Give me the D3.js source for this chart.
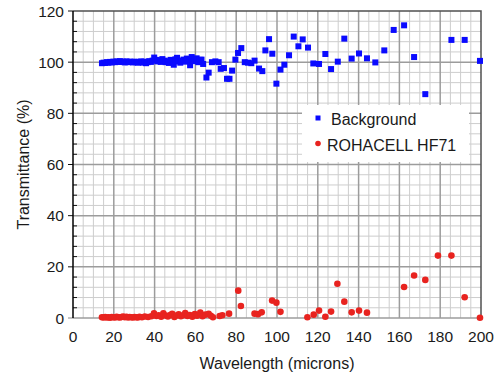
<!DOCTYPE html>
<html>
<head>
<meta charset="utf-8">
<script src="https://cdn.jsdelivr.net/npm/d3@7"></script>
<style>
  html, body { margin: 0; padding: 0; background: #fff; }
  svg { display: block; font-family: "Liberation Sans", Arial, sans-serif; }
</style>
</head>
<body>
<svg id="chart" width="500" height="376"></svg>
<script>
// Background (empty beam) transmittance, wavelength in microns
const backgroundWavelength = [
  14.2, 15.0, 15.8, 16.6, 17.4, 18.2, 19.0, 19.8, 20.6, 21.4, 22.2, 23.0, 23.8, 24.6,
  25.4, 26.2, 27.0, 27.8, 28.6, 29.4, 30.2, 31.0, 31.8, 32.6, 33.4, 34.2, 35.0, 35.8,
  36.6, 37.4, 38.2, 39.0, 39.8, 40.6, 41.4, 42.2, 43.0, 43.8, 44.6, 45.4, 46.2, 47.0,
  47.8, 48.6, 49.4, 50.2, 51.0, 51.8, 52.6, 53.4, 54.2, 55.0, 55.8, 56.6, 57.4, 58.2,
  59.0, 59.8, 60.6, 61.4, 62.2, 63.0, 63.8,
  65.4, 66.5, 68.1, 69.8, 71.4, 72.4, 74.0, 75.5, 76.7, 78.0, 79.6, 80.9, 82.5, 84.2,
  85.8, 87.4, 89.0, 91.2, 92.8, 94.3, 96.1, 97.7, 99.7, 101.7, 103.6, 105.9, 108.2,
  110.5, 112.6, 115.2, 117.8, 120.6, 123.7, 126.5, 129.8, 133.0, 136.6, 140.2, 144.1,
  148.2, 152.6, 157.2, 162.3, 167.2, 172.7, 185.5, 192.0, 199.5
];
const backgroundValue = [
  99.6, 99.8, 99.7, 100.0, 99.8, 100.1, 99.9, 100.2, 100.0, 100.3, 100.1, 100.4, 100.1, 100.2,
  99.9, 100.3, 100.0, 100.2, 100.1, 99.9, 100.2, 100.0, 99.8, 100.1, 100.3, 99.8, 100.2, 99.6,
  100.0, 100.4, 100.1, 100.6, 101.8, 100.9, 100.3, 100.8, 100.1, 101.2, 100.6, 100.0, 100.4, 99.7,
  100.9, 100.2, 99.0, 101.1, 101.7, 100.3, 99.8, 100.6, 101.0, 100.2, 101.4, 100.7, 98.8, 102.0,
  100.4, 101.1, 101.5, 100.0, 100.9, 101.0, 99.3,
  94.0, 95.9, 100.0, 100.3, 100.0, 97.4, 97.7, 93.5, 93.5, 96.7, 101.0, 103.6, 105.5, 100.0,
  99.8, 99.6, 100.6, 97.5, 96.5, 104.6, 109.0, 103.3, 91.6, 97.1, 99.0, 102.7, 110.0,
  106.2, 108.9, 105.7, 99.5, 99.3, 103.2, 97.3, 100.2, 109.2, 101.4, 103.4, 101.5,
  99.9, 104.6, 112.6, 114.4, 102.0, 87.5, 108.7, 108.7, 100.5
];

// ROHACELL HF71 sample transmittance
const sampleWavelength = [
  14.2, 15.0, 15.8, 16.6, 17.4, 18.2, 19.0, 19.8, 20.6, 21.4, 22.2, 23.0, 23.8, 24.6,
  25.4, 26.2, 27.0, 27.8, 28.6, 29.4, 30.2, 31.0, 31.8, 32.6, 33.8, 35.2, 36.8, 38.4,
  39.7, 40.9, 42.0, 43.2, 44.3, 45.4, 46.5, 47.6, 48.6, 49.7, 50.8, 51.8, 52.9, 54.0,
  55.0, 56.1, 57.3, 58.5, 59.7, 60.8, 62.4, 63.5, 64.9, 66.5, 67.6, 68.6, 71.9, 73.2,
  76.5, 81.0, 82.3, 89.0, 90.7, 92.5, 97.6, 99.7, 101.7, 114.9, 118.0, 120.6, 123.7,
  126.5, 129.6, 133.0, 136.6, 140.2, 144.1, 162.3, 167.2, 172.7, 178.9, 185.5, 192.0, 199.5
];
const sampleValue = [
  0.3, 0.2, 0.4, 0.2, 0.3, 0.1, 0.4, 0.3, 0.2, 0.5, 0.3, 0.2, 0.4, 0.6,
  0.3, 0.5, 0.2, 0.4, 0.3, 0.2, 0.4, 0.3, 0.2, 0.5, 0.3, 0.6, 0.4, 0.7,
  1.8, 0.8, 1.1, 0.5, 1.8, 1.0, 0.6, 1.2, 1.6, 0.4, 1.0, 1.4, 0.7, 1.1,
  1.9, 0.8, 1.2, 0.5, 1.5, 0.9, 2.1, 0.7, 1.3, 1.6, 0.9, 0.3, 0.8, 1.1,
  1.7, 10.7, 4.7, 1.7, 1.5, 2.2, 6.8, 6.0, 2.4, 0.3, 1.3, 2.9, 0.5,
  2.5, 13.4, 6.4, 2.2, 2.9, 2.1, 12.1, 16.6, 14.9, 24.4, 24.4, 8.1, 0.1
];

const xTicks = [0, 20, 40, 60, 80, 100, 120, 140, 160, 180, 200];
const yTicks = [0, 20, 40, 60, 80, 100, 120];
const seriesNames = ["Background", "ROHACELL HF71"];
const seriesColors = ["#0a0aff", "#e8231f"];

const background = backgroundWavelength.map((w, i) => ({ x: w, y: backgroundValue[i] }));
const sample = sampleWavelength.map((w, i) => ({ x: w, y: sampleValue[i] }));

const svg = d3.select("#chart");
const plotLeft = 73, plotRight = 481, plotTop = 11, plotBottom = 318;

const x = d3.scaleLinear().domain([0, 200]).range([plotLeft, plotRight]);
const y = d3.scaleLinear().domain([0, 120]).range([plotBottom, plotTop]);

// minor grid: every 5 microns, every 4 percent
const grid = svg.append("g");
grid.selectAll("line.vminor")
  .data(d3.range(0, 201, 5).filter(v => v % 20 !== 0))
  .join("line")
  .attr("x1", d => x(d)).attr("x2", d => x(d))
  .attr("y1", plotTop).attr("y2", plotBottom)
  .attr("stroke", "#cdcdcd").attr("stroke-width", 1);
grid.selectAll("line.hminor")
  .data(d3.range(0, 121, 4).filter(v => v % 20 !== 0))
  .join("line")
  .attr("x1", plotLeft).attr("x2", plotRight)
  .attr("y1", d => y(d)).attr("y2", d => y(d))
  .attr("stroke", "#cdcdcd").attr("stroke-width", 1);
// major grid
grid.selectAll("line.vmajor")
  .data(xTicks.filter(v => v > 0 && v < 200))
  .join("line")
  .attr("x1", d => x(d)).attr("x2", d => x(d))
  .attr("y1", plotTop).attr("y2", plotBottom)
  .attr("stroke", "#9c9c9c").attr("stroke-width", 1.5);
grid.selectAll("line.hmajor")
  .data(yTicks.filter(v => v < 120))
  .join("line")
  .attr("x1", plotLeft).attr("x2", plotRight)
  .attr("y1", d => y(d)).attr("y2", d => y(d))
  .attr("stroke", "#9c9c9c").attr("stroke-width", 1.5);

// frame: top and right edges
svg.append("path")
  .attr("d", `M${plotLeft},${plotTop}H${plotRight}V${plotBottom}`)
  .attr("fill", "none").attr("stroke", "#505050").attr("stroke-width", 1.5);

// left axis with inward minor ticks and outward major ticks
const yAxis = svg.append("g");
yAxis.selectAll("line.minor")
  .data(d3.range(4, 120, 4).filter(v => v % 20 !== 0))
  .join("line")
  .attr("x1", plotLeft).attr("x2", plotLeft + 4)
  .attr("y1", d => y(d)).attr("y2", d => y(d))
  .attr("stroke", "#111").attr("stroke-width", 1);
yAxis.selectAll("line.major")
  .data(yTicks)
  .join("line")
  .attr("x1", plotLeft - 5).attr("x2", plotLeft)
  .attr("y1", d => y(d)).attr("y2", d => y(d))
  .attr("stroke", d => d === 0 ? "#888" : "#111").attr("stroke-width", 1);
yAxis.append("line")
  .attr("x1", plotLeft).attr("x2", plotLeft)
  .attr("y1", plotTop).attr("y2", plotBottom)
  .attr("stroke", "#000").attr("stroke-width", 1.5);

yAxis.selectAll("text")
  .data(yTicks)
  .join("text")
  .attr("x", plotLeft - 9).attr("y", d => y(d))
  .attr("dy", "0.36em")
  .attr("text-anchor", "end")
  .attr("font-size", 15.5)
  .attr("fill", "#1a1a1a")
  .text(d => d);

svg.append("g").selectAll("text")
  .data(xTicks)
  .join("text")
  .attr("x", d => x(d)).attr("y", 342)
  .attr("text-anchor", "middle")
  .attr("font-size", 15.5)
  .attr("fill", "#1a1a1a")
  .text(d => d);

svg.append("text")
  .attr("x", (plotLeft + plotRight) / 2).attr("y", 369)
  .attr("text-anchor", "middle")
  .attr("font-size", 16)
  .attr("fill", "#1a1a1a")
  .text("Wavelength (microns)");

svg.append("text")
  .attr("transform", `translate(29,${(plotTop + plotBottom) / 2}) rotate(-90)`)
  .attr("text-anchor", "middle")
  .attr("font-size", 16)
  .attr("fill", "#1a1a1a")
  .text("Transmittance (%)");

// legend panel
const legend = svg.append("g");
legend.append("rect")
  .attr("x", 302).attr("y", 105).attr("width", 167).attr("height", 57)
  .attr("fill", "#fff");
legend.append("rect")
  .attr("x", 315.5).attr("y", 115.5).attr("width", 5).attr("height", 5)
  .attr("fill", seriesColors[0]);
legend.append("text")
  .attr("x", 331).attr("y", 125)
  .attr("font-size", 16).attr("fill", "#1a1a1a")
  .text(seriesNames[0]);
legend.append("circle")
  .attr("cx", 318).attr("cy", 143.5).attr("r", 2.8)
  .attr("fill", seriesColors[1]);
legend.append("text")
  .attr("x", 327).attr("y", 151)
  .attr("font-size", 16).attr("fill", "#1a1a1a")
  .text(seriesNames[1]);

// data markers
svg.append("g").selectAll("rect")
  .data(background)
  .join("rect")
  .attr("x", d => x(d.x) - 3).attr("y", d => y(d.y) - 3)
  .attr("width", 6).attr("height", 6)
  .attr("fill", seriesColors[0]);

svg.append("g").selectAll("circle")
  .data(sample)
  .join("circle")
  .attr("cx", d => x(d.x)).attr("cy", d => y(d.y))
  .attr("r", 3.3)
  .attr("fill", seriesColors[1]);
</script>
</body>
</html>
